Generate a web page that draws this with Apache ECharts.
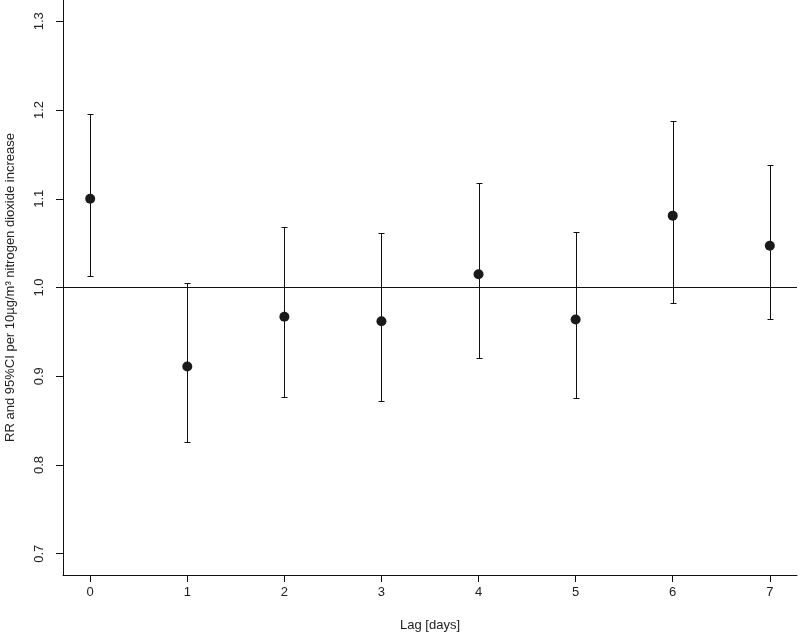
<!DOCTYPE html>
<html>
<head>
<meta charset="utf-8">
<script src="https://cdn.jsdelivr.net/npm/echarts@6/dist/echarts.min.js"></script>
<style>
    html, body { margin: 0; padding: 0; background: #fff; }
    #chart { width: 800px; height: 633px; }
</style>
</head>
<body>
<div id="chart"></div>
<script>
// lag days and estimates
var lags = [0, 1, 2, 3, 4, 5, 6, 7];
var rr = [1.100, 0.911, 0.967, 0.962, 1.015, 0.964, 1.081, 1.047];
var ciLow = [1.013, 0.826, 0.877, 0.872, 0.921, 0.875, 0.983, 0.964];
var ciHigh = [1.196, 1.005, 1.068, 1.061, 1.118, 1.063, 1.188, 1.138];
var yTicks = [0.7, 0.8, 0.9, 1.0, 1.1, 1.2, 1.3];

var myChart = echarts.init(document.getElementById('chart'));

var points = [];
var bars = [];
for (var i = 0; i < lags.length; i++) {
    points.push([lags[i], rr[i]]);
    bars.push([lags[i], ciLow[i], ciHigh[i]]);
}

var axisColor = '#111';
var textColor = '#222';
var font = 'Liberation Sans, Arial, sans-serif';

var option = {
    animation: false,
    backgroundColor: '#fff',
    grid: {
        left: 63,
        right: 3,
        top: 0,
        bottom: 58,
        outerBoundsMode: 'none',
        containLabel: false
    },
    xAxis: {
        type: 'value',
        min: -0.28,
        max: 7.28,
        name: 'Lag [days]',
        nameLocation: 'middle',
        nameGap: 44,
        nameTextStyle: { color: textColor, fontSize: 13, fontFamily: font },
        splitLine: { show: false },
        axisLine: { show: true, onZero: false, lineStyle: { color: axisColor, width: 1 } },
        axisTick: { show: true, length: 7, customValues: lags, lineStyle: { color: axisColor } },
        axisLabel: {
            customValues: lags,
            color: textColor,
            fontSize: 13,
            fontFamily: font,
            margin: 11
        }
    },
    yAxis: {
        type: 'value',
        min: 0.676,
        max: 1.324,
        name: 'RR and 95%CI per 10\u00b5g/m\u00b3 nitrogen dioxide increase',
        nameLocation: 'middle',
        nameGap: 46,
        nameTextStyle: { color: textColor, fontSize: 13, fontFamily: font },
        splitLine: { show: false },
        axisLine: { show: true, onZero: false, lineStyle: { color: axisColor, width: 1 } },
        axisTick: { show: true, length: 7, customValues: yTicks, lineStyle: { color: axisColor } },
        axisLabel: {
            customValues: yTicks,
            rotate: 90,
            color: textColor,
            fontSize: 13,
            fontFamily: font,
            margin: 17,
            formatter: function (v) { return v.toFixed(1); }
        }
    },
    series: [
        {
            // 95% CI whiskers
            type: 'custom',
            data: bars,
            renderItem: function (params, api) {
                var x = Math.round(api.coord([api.value(0), 1])[0]) + 0.5;
                var lo = Math.round(api.coord([api.value(0), api.value(1)])[1]) + 0.5;
                var hi = Math.round(api.coord([api.value(0), api.value(2)])[1]) + 0.5;
                var cap = 3;
                var style = { stroke: '#111', lineWidth: 1 };
                return {
                    type: 'group',
                    children: [
                        { type: 'line', shape: { x1: x, y1: lo, x2: x, y2: hi }, style: style },
                        { type: 'line', shape: { x1: x - cap, y1: hi, x2: x + cap, y2: hi }, style: style },
                        { type: 'line', shape: { x1: x - cap, y1: lo, x2: x + cap, y2: lo }, style: style }
                    ]
                };
            },
            z: 2
        },
        {
            type: 'scatter',
            data: points,
            symbol: 'circle',
            symbolSize: 10,
            itemStyle: { color: '#1a1a1a', opacity: 1 },
            markLine: {
                silent: true,
                symbol: ['none', 'none'],
                label: { show: false },
                lineStyle: { color: '#111', type: 'solid', width: 1 },
                data: [{ yAxis: 1 }]
            },
            z: 3
        }
    ]
};
myChart.setOption(option);
</script>
</body>
</html>
